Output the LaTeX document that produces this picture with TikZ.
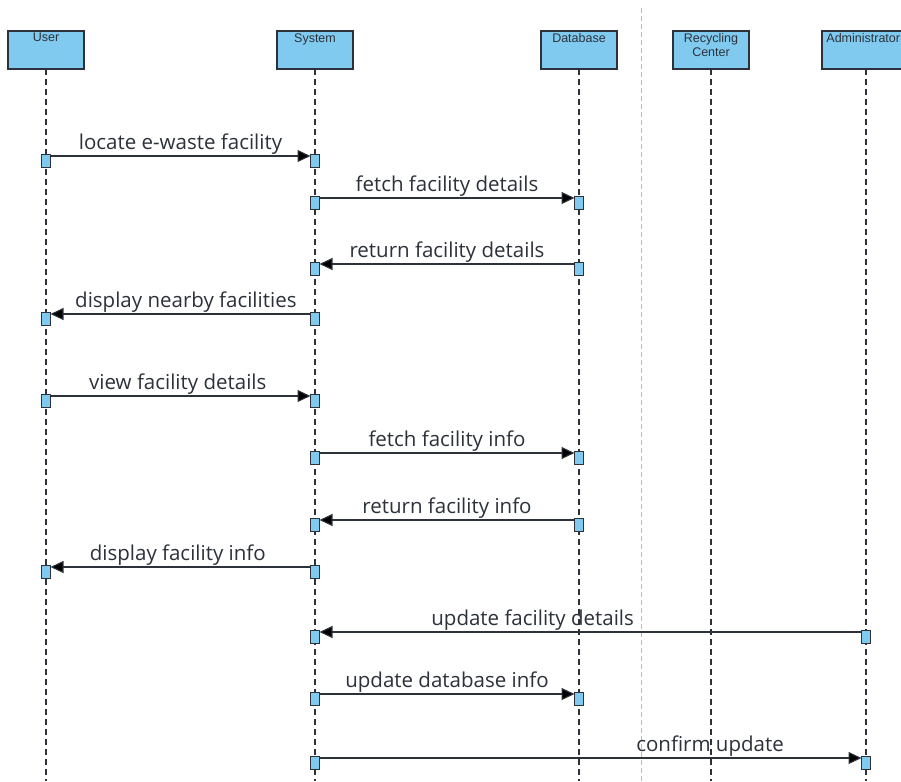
\documentclass[tikz,border=0pt]{standalone}
\usepackage{fontspec}
\setmainfont{Open Sans}
\newfontfamily\headfont{Liberation Sans}
\usetikzlibrary{arrows.meta}
\definecolor{boxblue}{RGB}{128,202,240}
\definecolor{inkgray}{RGB}{45,50,58}
\tikzset{
  actor/.style={draw=inkgray, line width=1.6pt, fill=boxblue, minimum width=76pt, minimum height=38pt, inner sep=0pt},
  actorlbl/.style={font=\headfont\fontsize{12.5}{14}\selectfont, align=center, anchor=north, inner sep=0pt, text=inkgray},
  life/.style={draw=inkgray, line width=1.1pt, dash pattern=on 6pt off 4pt},
  act/.style={draw=inkgray, line width=0.9pt, fill=boxblue, minimum width=8.5pt, minimum height=13pt, inner sep=0pt, anchor=north},
  msg/.style={draw=inkgray, line width=1.1pt, -{Triangle[length=13pt,width=12pt,fill=black]}, shorten <=4.5pt, shorten >=4.5pt},
  lbl/.style={above, inner sep=1.5pt, font=\fontsize{20.5}{22}\selectfont, text=inkgray}
}
\begin{document}
\begin{tikzpicture}[x=1pt,y=-1pt]
 \useasboundingbox (0,0) rectangle (901,781);
 \clip (0,0) rectangle (901,781);
 \fill[white] (0,0) rectangle (901,781);
 \draw[gray!55, line width=0.7pt, dash pattern=on 5pt off 3pt] (641,8) -- (641,781);
 \node[actor] (user) at (46,50) {};
 \node[actor] (system) at (315,50) {};
 \node[actor] (database) at (579,50) {};
 \node[actor] (center) at (711,50) {};
 \node[actor, minimum width=100pt] (admin) at (872,50) {};
 \node[actorlbl] (userlbl) at ([yshift=-3pt]user.north) {User};
 \node[actorlbl] (systemlbl) at ([yshift=-3pt]system.north) {System};
 \node[actorlbl] (databaselbl) at ([yshift=-3pt]database.north) {Database};
 \node[actorlbl] (centerlbl) at ([yshift=-3pt]center.north) {Recycling\\Center};
 \node[actorlbl, anchor=north west] (adminlbl) at ([xshift=5pt,yshift=-3pt]admin.north west) {Administrator};
 \foreach \who/\x in {user/46,system/315,database/579,center/711,admin/866}{
   \coordinate (\who end) at (\x,781);
   \draw[life] (\x,69) -- (\who end);
 }
 \foreach \i/\y/\xa/\xb/\txt/\p in {
   1/156/46/315/locate e-waste facility/0.5,
   2/198/315/579/fetch facility details/0.5,
   3/264/579/315/return facility details/0.5,
   4/314/315/46/display nearby facilities/0.48,
   5/396/46/315/view facility details/0.49,
   6/453/315/579/fetch facility info/0.5,
   7/520/579/315/return facility info/0.5,
   8/567/315/46/display facility info/0.51,
   9/632/866/315/update facility details/0.605,
   10/694/315/579/update database info/0.5,
   11/758/315/866/confirm update/0.717}{
   \node[act] (src\i) at (\xa,\y-2) {};
   \node[act] (dst\i) at (\xb,\y-2) {};
   \draw[msg] ([yshift=-2pt]src\i.north) -- node[lbl, pos=\p] (lbl\i) {\txt} ([yshift=-2pt]dst\i.north);
 }
\end{tikzpicture}
\end{document}
